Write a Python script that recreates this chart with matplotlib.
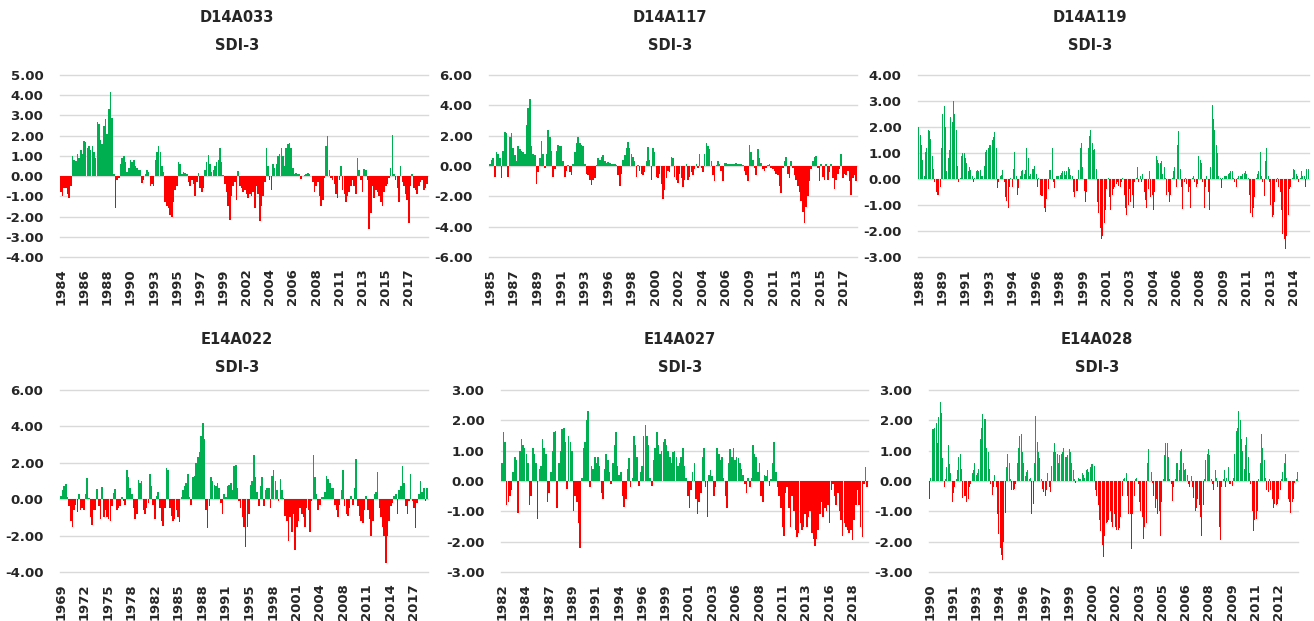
import numpy as np
import matplotlib
matplotlib.use("Agg")
import matplotlib.pyplot as plt

plt.rcParams['font.family'] = ['DejaVu Sans']

# ---------------- data (SDI-3 values) ----------------
d14a033 = [-0.8,-1.0,-0.6,-0.6,-0.9,-1.1,-0.5,1.0,0.8,0.75,1.1,0.9,1.3,1.1,1.75,1.7,1.4,1.5,1.3,1.5,1.2,0.9,2.7,2.6,1.8,1.6,2.5,2.8,2.1,3.3,4.15,2.85,0.1,-1.6,-0.2,-0.1,0.6,0.9,1.0,0.7,0.2,0.4,0.8,0.7,0.8,0.5,0.4,0.3,0.3,-0.35,-0.2,0.1,0.3,0.2,-0.5,-0.4,-0.5,0.8,1.2,1.5,1.2,0.5,0.2,-1.3,-1.5,-1.6,-1.9,-2.0,-1.3,-0.7,-0.5,0.7,0.6,0.1,0.2,0.15,0.1,-0.3,-0.5,-0.2,-0.4,-1.0,-0.3,0.15,-0.6,-0.8,-0.6,0.3,0.7,1.05,0.6,0.2,0.3,0.5,0.7,0.8,1.4,0.7,0.05,-0.4,-0.8,-1.5,-2.15,-1.0,-0.5,-0.3,-1.2,0.25,
           -0.5,-0.6,-0.8,-0.7,-0.9,-1.1,-0.9,-1.0,-0.8,-1.6,-0.5,-0.9,-2.2,-1.5,-1.0,-0.3,1.4,0.5,-0.2,-0.7,0.6,0.4,0.6,1.0,1.1,1.4,1.0,0.5,1.4,1.6,1.65,1.4,0.4,0.1,0.15,0.1,0.1,-0.15,0.02,0.05,0.1,0.15,0.1,0.02,-0.3,-0.8,-0.5,-0.3,-1.0,-1.5,-1.2,-0.1,1.5,2.0,0.3,-0.1,-0.2,-0.4,-0.9,-1.1,-0.2,0.5,-0.7,-0.9,-1.3,-1.0,-0.8,-0.5,-0.2,-0.5,-0.9,0.9,0.3,-0.2,-0.8,0.35,0.3,-0.2,-2.6,-1.8,-0.5,-1.1,-0.7,-0.8,-1.0,-1.3,-1.5,-0.8,-0.5,-0.4,-0.1,0.4,2.05,0.1,-0.2,-0.6,-1.3,0.5,-0.3,-0.5,-0.9,-1.2,-2.3,-0.5,0.1,-0.6,-0.7,-0.9,-0.5,-0.3,-0.2,-0.7,-0.6,-0.4]

d14a117 = [0.15,0.4,0.55,-0.75,0.9,0.8,0.5,-0.8,1.0,2.25,2.2,-0.75,1.9,2.2,1.2,0.7,0.3,1.3,1.1,1.0,0.9,0.8,2.7,3.8,4.45,1.3,0.8,0.7,-1.2,-0.4,0.5,1.65,0.8,-0.15,0.8,2.4,1.9,1.0,-0.7,-0.2,1.0,1.4,1.3,1.35,0.3,-0.7,-0.3,0.05,-0.4,-0.6,0.1,0.9,1.5,1.9,1.5,1.4,1.3,0.1,-0.5,-0.6,-0.9,-1.25,-0.9,-0.8,0.05,0.5,0.4,0.6,0.75,0.3,0.2,0.25,0.2,0.15,0.1,0.1,0.05,-0.6,-1.35,-0.5,0.4,0.7,1.2,1.6,1.2,0.8,0.6,0.3,-0.7,0.05,-0.3,-0.5,-0.6,-0.4,0.3,1.25,0.4,-0.9,1.2,0.9,-0.7,-0.8,
           -0.5,-1.2,-2.2,-1.6,-0.8,-0.3,-0.4,0.6,0.5,-0.7,-0.9,-1.1,-0.5,-0.8,-1.4,-0.9,0.1,-0.9,-0.7,-0.4,-0.6,-0.2,0.1,-0.1,0.8,-0.1,-0.4,0.8,1.5,1.3,1.1,0.3,-0.6,-1.0,0.05,0.3,0.1,-0.3,-1.0,0.2,0.2,0.15,0.1,0.1,0.15,0.1,0.2,0.15,0.1,0.1,0.05,-0.3,-0.6,-1.0,1.4,0.9,0.4,-0.15,-0.6,1.1,0.5,0.2,-0.2,-0.3,-0.1,0.05,0.1,-0.1,-0.2,-0.3,-0.5,-0.6,-1.3,-1.8,-0.1,0.3,0.6,-0.5,-0.8,0.3,-0.1,-0.6,-0.9,-1.3,-1.7,-2.3,-3.0,-3.75,-2.7,-2.0,-1.0,-0.2,0.3,0.6,0.65,-0.1,-1.0,0.1,-0.7,-0.9,0.1,-0.9,-0.4,0.1,-0.8,-1.5,-0.9,-0.5,-0.2,0.8,-0.8,-0.5,-0.6,-0.3,-1.0,-1.9,-0.8,-0.6,-1.0]

d14a119 = [2.0,1.7,1.3,0.75,0.1,1.05,1.2,1.9,1.85,1.55,0.9,0.4,-0.1,-0.5,-0.6,-0.6,-0.3,1.2,2.5,2.8,2.0,0.3,0.8,1.1,2.4,2.2,3.0,2.5,1.9,0.5,-0.1,0.05,0.9,1.0,1.0,0.8,0.6,0.3,0.45,0.35,0.1,-0.1,0.05,0.3,0.35,0.3,0.35,0.1,0.1,0.5,1.05,1.1,1.2,1.3,1.3,1.5,1.6,1.8,1.2,-0.35,-0.1,0.1,0.15,0.35,-0.1,-0.7,-0.85,-1.1,-0.3,0.05,-0.3,0.4,1.05,0.1,-0.6,-0.35,0.1,0.3,0.35,0.2,0.35,1.2,0.8,0.1,0.2,0.4,0.4,0.5,0.2,-0.3,0.05,-0.6,-0.65,-0.65,-1.1,-1.25,-0.75,-0.4,0.35,0.35,1.2,-0.1,-0.35,0.1,0.1,0.1,0.15,0.25,0.3,0.3,0.15,0.3,0.45,0.4,0.15,0.1,-0.5,-0.7,-0.45,-0.45,0.35,1.2,1.4,0.45,-0.45,-0.9,-0.5,1.2,1.65,1.9,1.4,1.1,1.15,0.4,
           -0.9,-1.3,-1.9,-2.3,-2.2,-1.7,-1.2,-0.4,0.05,-0.7,-1.2,-0.6,-0.4,-0.3,-0.2,-0.1,-0.25,-0.3,-0.1,0.05,-0.6,-1.1,-1.4,-1.0,-0.4,-0.9,-0.6,-1.1,-0.1,0.05,0.45,-0.1,0.1,-0.1,0.2,-0.5,-0.8,-1.1,-0.4,0.3,-0.7,-0.6,-1.2,-0.5,0.9,0.75,0.6,0.6,0.7,0.2,0.45,0.05,-0.6,-0.5,-0.9,-0.6,0.05,0.3,0.45,-0.3,1.3,1.85,0.4,-0.3,-1.15,-0.1,0.05,-0.2,-0.5,-0.3,-1.1,0.05,0.1,-0.1,-0.3,-0.2,0.9,0.75,0.6,-0.1,-1.1,-0.3,0.1,-0.5,-1.2,0.45,2.85,2.3,1.9,1.3,1.0,0.1,0.05,-0.35,0.02,0.1,0.1,0.1,0.2,0.25,0.3,0.3,0.05,-0.1,-0.3,0.05,0.1,0.1,0.1,0.2,0.25,0.3,0.2,0.05,-0.6,-1.3,-1.45,-1.1,-0.7,0.05,0.2,0.3,1.05,0.1,-0.1,-0.65,0.7,1.2,0.1,-0.1,-1.0,-1.45,-1.4,-0.9,-0.1,0.05,-0.3,-0.5,-1.2,-2.1,-2.3,-2.7,-2.2,-1.4,-0.4,-0.3,0.05,0.4,0.35,0.2,0.1,-0.1,0.05,0.3,0.1,0.1,-0.3,0.4,0.4]

e14a022 = [0.15,0.5,0.7,0.85,0.1,-0.4,-1.2,-1.55,-0.6,-0.3,-0.7,0.3,-0.6,-0.5,-0.6,0.3,1.15,0.05,-1.0,-1.4,-0.6,-0.6,0.55,-0.4,-1.1,0.65,-1.0,-0.6,-1.0,-1.1,-1.2,-0.4,0.35,0.55,-0.6,-0.5,-0.4,0.1,-0.1,-0.3,1.6,1.2,0.6,0.3,-0.5,-1.1,-0.8,1.05,0.9,1.0,-0.6,-0.8,-0.5,-0.2,1.4,0.7,-0.3,-1.1,0.2,0.4,-0.5,-1.2,-1.45,-0.5,1.7,1.6,-0.5,-0.9,-1.2,-1.1,-0.6,-1.0,-1.25,0.1,0.5,0.7,0.9,1.4,0.1,-0.3,1.2,1.3,2.0,2.3,2.6,3.5,4.2,3.3,-0.6,-1.6,-0.4,1.2,1.0,0.8,0.7,0.9,0.6,-0.2,-0.8,0.3,0.1,0.7,0.8,0.9,0.5,1.8,1.9,0.6,
           -0.1,-0.5,-1.0,-1.5,-2.65,-1.5,-0.8,0.8,1.0,2.45,1.2,0.4,-0.4,0.7,1.2,-0.4,0.5,0.6,0.6,-0.5,1.3,1.6,1.0,0.5,-0.1,1.1,0.5,0.05,-0.9,-1.2,-2.3,-1.0,-1.8,-0.8,-2.8,-1.5,-1.2,-0.5,-0.8,-1.0,-1.5,-0.5,-0.6,-1.8,-0.1,2.45,1.2,0.3,-0.6,-0.3,0.1,0.1,0.4,1.3,1.1,0.9,0.6,0.6,-0.3,-0.6,-1.0,-0.3,0.5,1.6,-0.4,-0.8,-0.9,-0.5,0.2,-0.3,0.6,2.2,-0.4,-0.9,-1.2,-1.3,-0.6,0.2,-0.6,-1.1,-2.0,-1.2,0.3,0.4,1.5,-0.5,-1.0,-1.5,-2.0,-3.5,-2.0,-1.2,-0.4,-0.2,0.2,0.3,-0.8,0.5,0.7,1.8,0.9,-0.4,-0.8,-0.1,1.4,-0.1,-0.5,-1.6,-0.2,0.3,1.0,0.4,0.6,-0.1,0.6]

e14a027 = [0.6,1.6,1.3,-0.8,-0.7,-0.5,-0.3,0.3,0.8,0.7,-1.05,1.0,1.4,1.2,1.1,0.9,0.6,-0.8,-0.5,1.1,0.9,0.6,-1.25,0.4,0.5,1.4,1.1,0.9,-0.7,-0.4,0.3,1.0,1.6,1.65,-0.9,0.6,1.0,1.7,1.75,1.3,-0.25,1.5,1.3,1.0,-1.0,-0.5,-0.7,-1.4,-2.2,0.1,1.1,1.3,2.0,2.3,-0.2,0.5,0.4,0.8,0.6,0.8,0.5,-0.4,-0.6,0.4,0.9,0.7,0.3,-0.1,0.6,1.2,1.6,0.5,0.2,0.3,-0.5,-0.85,-0.6,0.4,0.75,-0.2,0.1,1.5,1.2,0.8,-0.15,0.3,0.5,1.5,1.85,1.5,1.2,0.1,-0.15,0.7,1.1,1.6,1.2,0.9,1.0,
           1.3,1.4,1.2,1.0,0.8,0.6,0.95,1.0,0.8,0.5,0.6,0.8,1.1,0.5,0.1,-0.5,-0.9,-0.3,0.3,0.6,-0.6,-1.1,-0.7,-0.4,0.8,1.1,-0.2,-1.2,0.2,0.35,0.15,-0.5,-0.2,1.1,0.9,0.7,0.8,0.1,-0.5,-0.9,0.6,1.05,0.8,1.1,0.7,0.8,0.75,0.6,0.4,0.2,-0.1,-0.4,0.1,-0.2,0.1,1.2,0.9,0.8,0.3,0.6,-0.5,-0.7,0.2,0.15,0.35,-0.15,0.05,0.6,1.3,0.3,-0.2,-0.5,-0.9,-1.5,-1.8,-0.4,-0.2,-0.9,-1.5,-0.5,-1.0,-1.6,-1.85,-1.7,-1.4,-1.6,-1.5,-1.1,-1.5,-1.2,-1.0,-1.7,-1.9,-2.15,-1.9,-1.6,-1.1,-0.7,-1.2,-0.9,-1.0,-0.8,-1.4,-0.3,-0.1,-0.5,-0.8,-0.4,-1.0,-1.3,-1.8,-1.4,-1.5,-1.6,-1.7,-1.6,-1.95,-1.3,-0.8,-0.3,-0.8,-1.5,-1.85,-0.1,0.45,-0.2]

e14a028 = [-0.6,0.1,1.7,1.7,1.75,1.9,1.25,2.1,2.6,2.25,0.75,-0.2,0.05,0.45,1.2,0.55,0.25,-0.7,-0.4,-0.2,0.05,0.35,0.8,0.9,0.4,-0.55,-0.5,-0.5,-0.7,-0.6,-0.2,-0.1,0.25,0.35,0.6,0.2,0.25,0.4,1.4,1.75,2.2,2.05,2.05,1.1,0.95,0.4,-0.1,-0.45,-0.2,0.2,-0.2,-1.1,-1.75,-2.2,-2.45,-2.6,-2.0,-1.05,0.45,0.9,0.6,0.05,-0.3,-0.3,-0.25,-0.1,0.6,1.1,1.5,1.55,0.95,0.6,0.15,0.3,0.35,0.05,0.1,-1.1,-0.75,0.6,2.15,1.3,0.95,0.75,0.05,-0.25,-0.35,-0.5,-0.3,0.25,-0.2,-0.35,0.5,0.95,1.25,0.95,0.9,0.6,0.85,0.9,0.95,1.1,0.8,0.8,0.85,1.05,0.95,0.6,0.35,0.05,-0.05,0.1,0.1,0.05,0.05,0.25,0.2,0.1,0.35,0.4,0.3,0.45,0.55,0.55,0.5,
           -0.3,-0.5,-0.8,-1.3,-1.65,-2.1,-2.5,-1.8,-1.4,-1.35,-1.3,-1.0,-1.35,-1.5,-1.1,-1.5,-1.6,-1.6,-1.55,-1.2,-0.5,0.05,0.1,0.25,-0.5,-1.1,-1.1,-2.25,-1.1,-0.5,0.05,0.1,-0.1,-0.7,-1.0,-1.2,-1.9,-1.5,-1.4,0.6,1.05,0.9,0.3,-0.05,-0.5,-0.9,-0.6,-1.1,-1.0,-1.8,-0.7,0.05,0.85,1.25,1.25,0.8,0.05,-0.1,-0.65,-0.2,0.05,0.6,0.6,0.35,1.0,1.05,0.6,0.35,0.4,0.2,-0.1,-0.2,0.15,-0.2,-0.55,-1.0,-0.9,-0.6,-0.8,-1.2,-1.8,-0.8,0.05,0.7,0.9,1.05,0.85,0.05,-0.1,-0.3,0.35,0.1,-0.2,-1.5,-1.95,-0.2,0.05,0.35,-0.2,0.1,0.45,-0.1,-0.1,-0.15,0.1,0.9,1.65,1.75,2.3,2.0,1.4,1.0,0.4,1.2,1.45,0.8,0.25,-0.1,-1.0,-1.65,-1.3,-1.25,-1.0,0.05,0.6,1.55,1.1,0.7,0.1,-0.3,-0.35,0.05,-0.3,-0.6,-0.9,-0.75,-0.8,-0.75,-0.6,-0.3,0.05,0.3,0.6,0.9,0.1,-0.6,-0.7,-1.05,-0.7,-0.6,-0.05,0.05,0.3]

titles = ["D14A033", "D14A117", "D14A119", "E14A022", "E14A027", "E14A028"]
subtitle = "SDI-3"
series = [d14a033, d14a117, d14a119, e14a022, e14a027, e14a028]

year_labels = [
    ["1984","1986","1988","1990","1993","1995","1997","1999","2002","2004","2006","2008","2011","2013","2015","2017"],
    ["1985","1987","1989","1991","1993","1996","1998","2000","2002","2004","2006","2009","2011","2013","2015","2017"],
    ["1988","1989","1991","1993","1994","1996","1998","1999","2001","2003","2004","2006","2008","2009","2011","2013","2014"],
    ["1969","1972","1975","1978","1982","1985","1988","1991","1995","1998","2001","2004","2008","2011","2014","2017"],
    ["1982","1984","1987","1989","1991","1994","1996","1999","2001","2003","2006","2008","2011","2013","2016","2018"],
    ["1990","1991","1993","1994","1996","1997","1999","2000","2002","2003","2005","2006","2008","2009","2011","2012"],
]
y_ranges = [(-4, 5, 1), (-6, 6, 2), (-3, 4, 1), (-4, 6, 2), (-3, 3, 1), (-3, 3, 1)]

# ---------------- layout (pixels of a 1314 x 621 canvas) ----------------
W, H = 1314, 621
boxes = [(60, 428, 75, 257), (489, 857, 75, 257), (918, 1309, 75, 257),
         (60, 428, 390, 572), (501, 868, 390, 572), (929, 1298, 390, 572)]
title_xy = [(237, 18), (670, 18), (1090, 18), (237, 340), (680, 340), (1097, 340)]
last_label_frac = [0.946, 0.962, 0.959, 0.959, 0.956, 0.946]
bar_width = [0.95, 0.95, 0.75, 0.95, 0.95, 0.75]

GREEN = "#00B050"
RED = "#FF0000"
GRID = "#D9D9D9"
TXT = "#262626"

fig = plt.figure(figsize=(W / 100, H / 100), dpi=100)

for i in range(6):
    l, r, t, b = boxes[i]
    ax = fig.add_axes([l / W, 1 - b / H, (r - l) / W, (b - t) / H])
    vals = np.array(series[i], dtype=float)
    n = len(vals)
    x = np.arange(n)
    colors = [GREEN if v >= 0 else RED for v in vals]
    ax.bar(x, vals, width=bar_width[i], color=colors, linewidth=0, zorder=2)
    lo, hi, st = y_ranges[i]
    yt = np.arange(lo, hi + st / 2, st)
    for yv in yt:
        ax.axhline(yv, color=GRID, lw=1.0, zorder=1, clip_on=False)
    ax.set_ylim(lo, hi)
    ax.set_xlim(-0.5, n - 0.5)
    ax.set_yticks(yt)
    ax.set_yticklabels([f"{v:.2f}" for v in yt])
    labs = year_labels[i]
    xt = np.linspace(0, last_label_frac[i] * n, len(labs))
    ax.set_xticks(xt)
    ax.set_xticklabels(labs, rotation=90)
    ax.tick_params(axis='y', length=0, pad=12, labelsize=9.5, labelcolor=TXT)
    ax.tick_params(axis='x', length=0, pad=8, labelsize=9.5, labelcolor=TXT)
    for lab in ax.get_xticklabels() + ax.get_yticklabels():
        lab.set_fontweight('bold')
    for s in ax.spines.values():
        s.set_visible(False)
    ax.set_facecolor('white')
    tx, ty = title_xy[i]
    fig.text(tx / W, 1 - ty / H, titles[i], ha='center', va='center',
             fontsize=10.5, fontweight='bold', color=TXT)
    fig.text(tx / W, 1 - (ty + 27) / H, subtitle, ha='center', va='center',
             fontsize=10.5, fontweight='bold', color=TXT)

fig.savefig("out.png", dpi=100, facecolor='white')
